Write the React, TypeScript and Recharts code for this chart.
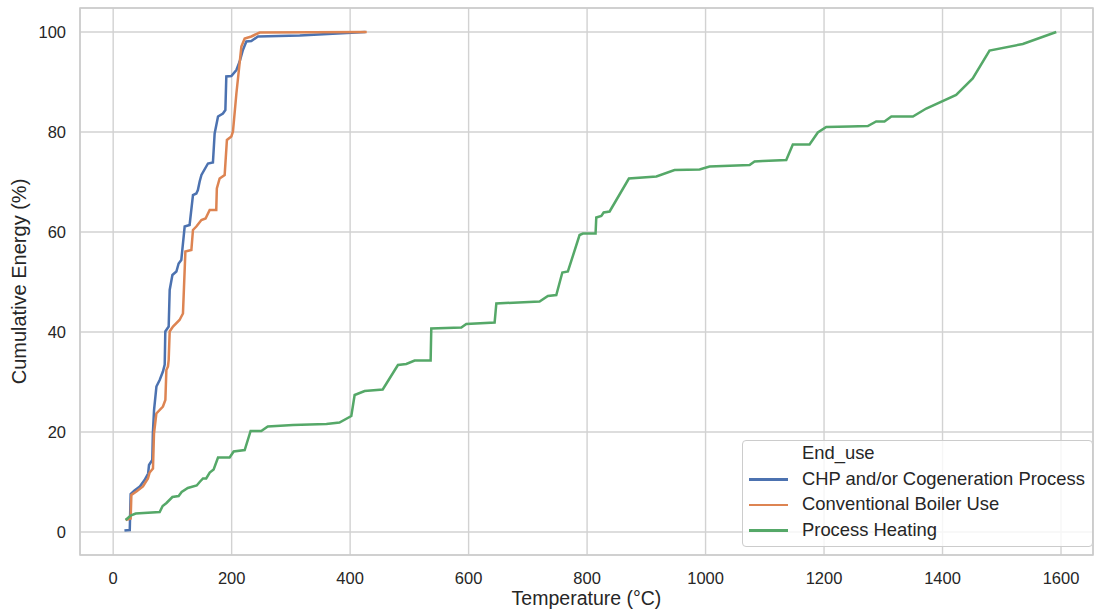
import React from 'react';
import { LineChart, Line, XAxis, YAxis, CartesianGrid, ReferenceArea, Legend } from 'recharts';

// temperatures (°C) and cumulative energy (%)
const chpTemp = [19, 28, 29.5, 36, 45, 53, 59, 60.5, 66, 67, 69, 73, 78.5, 84, 87, 88, 93.7, 95.4, 100, 106.7, 110.5, 115, 120.7, 129, 134.7, 140.4, 143, 146, 149, 160, 168.4, 171.3, 177, 185.3, 189.4, 191, 199.5, 208, 213.5, 219, 224.8, 233.2, 244.4, 315, 426];
const chpCum = [0.3, 0.4, 7.6, 8.3, 9.1, 10.4, 11.7, 13.4, 14.4, 19.7, 24.4, 29.1, 30.4, 32.1, 33.5, 40.1, 41.1, 48.4, 51.4, 52.1, 53.7, 54.4, 61.1, 61.4, 67.4, 67.7, 68.4, 70.1, 71.4, 73.7, 73.9, 79.7, 83.1, 83.7, 84.4, 91.1, 91.2, 92.4, 94.1, 96.4, 98.1, 98.2, 99.1, 99.3, 100];

const boilerTemp = [21, 29.5, 30.7, 39.2, 50.3, 58.7, 61.6, 67.2, 68.9, 72.9, 84, 88.1, 89.8, 92.5, 93.7, 95.4, 101, 112, 117.8, 121.9, 132, 134.7, 140.4, 148.9, 156, 162.9, 174, 175, 179.7, 188.2, 192, 199.5, 202.2, 208, 216.4, 222, 233.2, 247.3, 428];
const boilerCum = [2.4, 2.7, 7.4, 8.1, 9.1, 10.7, 11.9, 12.7, 19.7, 23.7, 25.1, 26.4, 32.4, 33.1, 34.4, 40.1, 41.1, 42.4, 43.7, 56.1, 56.4, 60.4, 61.1, 62.4, 62.7, 64.4, 64.4, 68.7, 70.7, 71.4, 78.4, 79.1, 80.1, 87.7, 97.1, 98.7, 99.1, 99.9, 100];

const heatTemp = [21, 29.5, 38, 78.5, 83.5, 90, 100, 110.5, 115.6, 126, 141, 146, 151.6, 157, 163, 169.6, 177, 196.6, 203.4, 222, 232, 250, 261, 303.5, 360, 382, 402, 407.6, 424.5, 455, 480.7, 494.8, 508.9, 535.9, 537, 587.7, 596.1, 643.9, 646.8, 719.8, 733.8, 748, 758.2, 767.6, 787.3, 793, 814.3, 815.5, 824, 828, 838, 870.6, 917, 947.6, 989.9, 1006.7, 1074.3, 1082.7, 1096.7, 1136.2, 1147.3, 1175.5, 1189.5, 1203.7, 1243, 1273.9, 1288, 1302, 1313.6, 1350, 1372.5, 1423, 1451, 1479.3, 1535.5, 1592];
const heatCum = [2.4, 3.3, 3.7, 4.0, 5.2, 5.8, 7.0, 7.2, 8.0, 8.8, 9.3, 10.0, 10.7, 10.7, 11.9, 12.5, 14.9, 14.9, 16.1, 16.4, 20.2, 20.2, 21.1, 21.4, 21.6, 21.9, 23.2, 27.4, 28.2, 28.5, 33.4, 33.6, 34.3, 34.3, 40.7, 40.9, 41.6, 41.9, 45.7, 46.1, 47.2, 47.4, 51.9, 52.1, 59.4, 59.7, 59.7, 62.9, 63.2, 63.9, 64.1, 70.7, 71.1, 72.4, 72.5, 73.1, 73.4, 74.1, 74.2, 74.4, 77.5, 77.5, 79.9, 81.0, 81.1, 81.2, 82.1, 82.1, 83.1, 83.1, 84.7, 87.4, 90.7, 96.3, 97.6, 100];

const xTicks = [0, 200, 400, 600, 800, 1000, 1200, 1400, 1600];
const yTicks = [0, 20, 40, 60, 80, 100];

const series = [
  { name: 'CHP and/or Cogeneration Process', color: '#4c72b0', temp: chpTemp, cum: chpCum },
  { name: 'Conventional Boiler Use', color: '#dd8452', temp: boilerTemp, cum: boilerCum },
  { name: 'Process Heating', color: '#55a868', temp: heatTemp, cum: heatCum },
];

const X_DOMAIN: [number, number] = [-56, 1654];
const Y_DOMAIN: [number, number] = [-4.6, 104.8];
const TEXT = '#262626';

const LegendBox = () => (
  <div
    style={{
      position: 'relative',
      width: 351,
      height: 107,
      boxSizing: 'border-box',
      background: 'rgba(255,255,255,0.8)',
      border: '1px solid #cccccc',
      borderRadius: 4,
      color: TEXT,
      fontSize: 18.4,
    }}
  >
    <div style={{ position: 'absolute', left: 59, top: 1, lineHeight: '22px' }}>End_use</div>
    {series.map((s, i) => (
      <div key={s.name}>
        <div style={{ position: 'absolute', left: 6, top: 37 + i * 25.5, width: 39, height: 2.5, background: s.color }} />
        <div style={{ position: 'absolute', left: 59, top: 26.5 + i * 25.5, lineHeight: '22px', whiteSpace: 'nowrap' }}>{s.name}</div>
      </div>
    ))}
  </div>
);

export default function App() {
  return (
    <div style={{ width: 1095, height: 611, fontFamily: '"Liberation Sans", Arial, sans-serif', background: '#fff' }}>
      <style>{'body{margin:0}'}</style>
      <LineChart width={1095} height={611} margin={{ top: 8, right: 2, left: 0, bottom: 0 }}>
        <CartesianGrid stroke="#d2d2d2" strokeWidth={1.4} />
        <XAxis
          type="number"
          dataKey="t"
          domain={X_DOMAIN}
          ticks={xTicks}
          allowDataOverflow
          height={56}
          axisLine={false}
          tickLine={false}
          tickSize={0}
          tickMargin={17}
          tick={{ fill: TEXT, fontSize: 16.5 }}
          label={{ value: 'Temperature (°C)', position: 'insideBottom', offset: 6, fill: TEXT, fontSize: 19.5 }}
        />
        <YAxis
          type="number"
          domain={Y_DOMAIN}
          ticks={yTicks}
          allowDataOverflow
          width={80}
          axisLine={false}
          tickLine={false}
          tickSize={0}
          tickMargin={14}
          tick={{ fill: TEXT, fontSize: 16.5 }}
          label={{ value: 'Cumulative Energy (%)', angle: -90, position: 'center', dx: -21, fill: TEXT, fontSize: 20 }}
        />
        <ReferenceArea x1={X_DOMAIN[0]} x2={X_DOMAIN[1]} y1={Y_DOMAIN[0]} y2={Y_DOMAIN[1]} fill="none" stroke="#cccccc" strokeWidth={1.6} />
        {series.map((s) => (
          <Line
            key={s.name}
            data={s.temp.map((t, i) => ({ t, v: s.cum[i] }))}
            dataKey="v"
            name={s.name}
            type="linear"
            stroke={s.color}
            strokeWidth={2.5}
            dot={false}
            activeDot={false}
            isAnimationActive={false}
          />
        ))}
        <Legend
          layout="horizontal"
          verticalAlign="middle"
          align="center"
          content={() => <LegendBox />}
          wrapperStyle={{ left: 742, top: 440, width: 351, height: 107 }}
        />
      </LineChart>
    </div>
  );
}
